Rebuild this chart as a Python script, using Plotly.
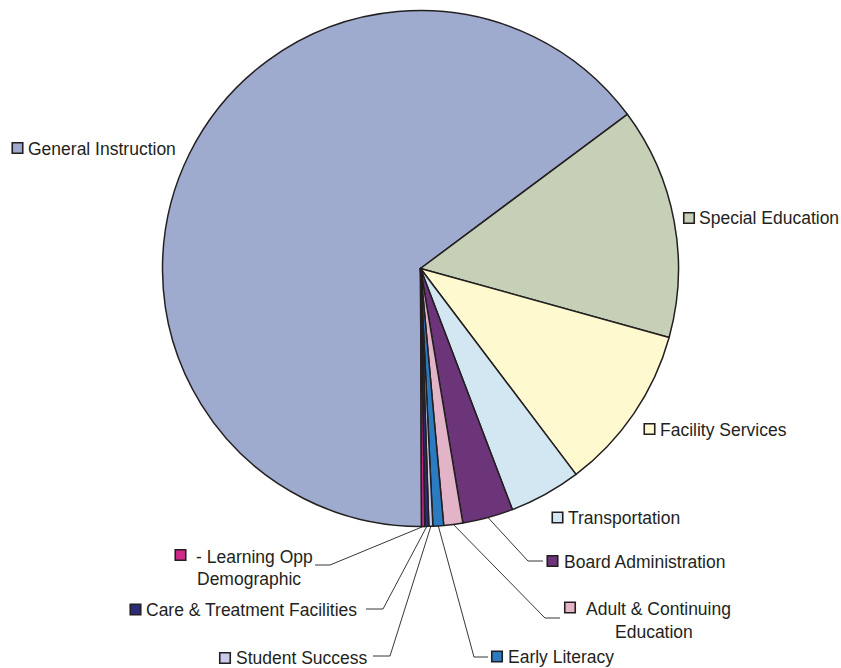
import math
import plotly.graph_objects as go

# ---------------- data ----------------
categories = ["General Instruction", "Special Education", "Facility Services", "Transportation",
              "Board Administration", "Adult & Continuing Education", "Early Literacy",
              "Student Success", "Care & Treatment Facilities", "Learning Opp - Demographic"]
values = [64.87, 14.5, 10.4, 4.5, 3.17, 1.19, 0.67, 0.25, 0.25, 0.2]
label_lines = [["General Instruction"], ["Special Education"], ["Facility Services"], ["Transportation"],
               ["Board Administration"], ["Adult & Continuing", "Education"], ["Early Literacy"],
               ["Student Success"], ["Care & Treatment Facilities"], ["- Learning Opp", "Demographic"]]
colors = ["#9EABCF", "#C6D0B7", "#FFF9D0", "#D3E7F3", "#6C3479",
          "#E3B4C7", "#2B7BC1", "#C9CBE9", "#2E2B7B", "#D0288B"]

# ---------------- layout constants (page pixels) ----------------
W, H = 841, 668
CX, CY, R = 420.5, 268.5, 258.0
SECOND_START = 53.3          # clockwise angle where the 2nd slice begins

# square centre, text anchors, leader elbow points
label_layout = [
    dict(sq=(17.5, 148), txt=[(26, 149)], lead=None),
    dict(sq=(689, 218), txt=[(697, 218)], lead=None),
    dict(sq=(649.5, 429), txt=[(658, 430)], lead=None),
    dict(sq=(557.5, 517.5), txt=[(566, 518)], lead=None),
    dict(sq=(552.5, 561), txt=[(562, 561.5)], lead=[(528, 561), (543, 561)]),
    dict(sq=(570, 607.5), txt=[(584, 609), (613, 631.5)], lead=[(545, 618), (560, 618)]),
    dict(sq=(497, 656.5), txt=[(506, 657)], lead=[(474, 657), (488, 657)]),
    dict(sq=(225, 658), txt=[(234, 658)], lead=[(390, 656), (373, 656)]),
    dict(sq=(135.5, 609.5), txt=[(144, 610)], lead=[(383, 609), (366, 609)]),
    dict(sq=(180.5, 555), txt=[(194, 556.5), (195, 578.5)], lead=[(330, 565), (315, 565)]),
]

total = sum(values)
rotation = SECOND_START - values[0] / total * 360.0

fig = go.Figure()
fig.add_trace(go.Pie(
    labels=categories, values=values, sort=False, direction="clockwise",
    rotation=rotation, textinfo="none", hoverinfo="label+percent",
    marker=dict(colors=colors, line=dict(color="#231F20", width=1.5)),
    domain=dict(x=[(CX - R) / W, (CX + R) / W],
                y=[1 - (CY + R) / H, 1 - (CY - R) / H]),
    showlegend=False,
))

# leader lines: start at the slice middle on the rim
cum = rotation
for i, v in enumerate(values):
    ang = cum + v / total * 360.0 / 2
    cum += v / total * 360.0
    lay = label_layout[i]
    if lay["lead"]:
        a = math.radians(ang)
        sx, sy = CX + R * math.sin(a), CY - R * math.cos(a)
        xs = [sx] + [p[0] for p in lay["lead"]]
        ys = [sy] + [p[1] for p in lay["lead"]]
        fig.add_trace(go.Scatter(x=xs, y=ys, mode="lines", line=dict(color="#231F20", width=0.9),
                                 hoverinfo="skip", showlegend=False))

# legend-like squares
fig.add_trace(go.Scatter(
    x=[l["sq"][0] for l in label_layout], y=[l["sq"][1] for l in label_layout],
    mode="markers", marker=dict(symbol="square", size=10.5, color=colors,
                                line=dict(color="#231F20", width=1.6)),
    hoverinfo="skip", showlegend=False))

for i, lines in enumerate(label_lines):
    for (tx, ty), t in zip(label_layout[i]["txt"], lines):
        fig.add_annotation(x=tx, y=ty, xref="x", yref="y", text=t, showarrow=False,
                           xanchor="left", yanchor="middle",
                           font=dict(family="Liberation Sans, Arial, sans-serif", size=17.5, color="#231F20"))

fig.update_layout(
    width=W, height=H, margin=dict(l=0, r=0, t=0, b=0),
    paper_bgcolor="white", plot_bgcolor="rgba(0,0,0,0)",
    xaxis=dict(range=[0, W], visible=False, fixedrange=True, domain=[0, 1]),
    yaxis=dict(range=[H, 0], visible=False, fixedrange=True, domain=[0, 1]),
)

fig.write_html("out.html", config={"displayModeBar": False},
               post_script="document.body.style.margin='0';document.body.style.overflow='hidden';")
